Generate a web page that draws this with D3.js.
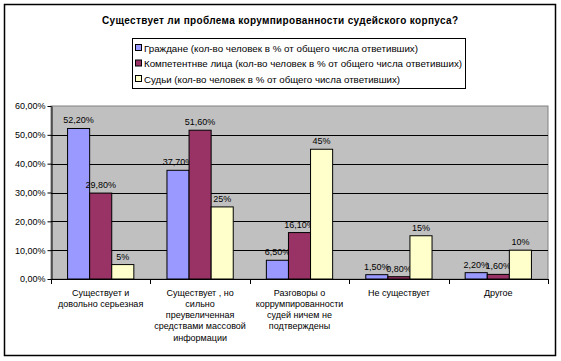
<!DOCTYPE html>
<html><head><meta charset="utf-8">
<script src="https://cdn.jsdelivr.net/npm/d3@7"></script>
<style>html,body{margin:0;padding:0;background:#fff;}svg{display:block;font-family:Arial,"Liberation Sans",sans-serif;}</style>
</head><body>
<script>
const categories = [
  ["Существует и", "довольно серьезная"],
  ["Существует , но", "сильно", "преувеличенная", "средствами массовой", "информации"],
  ["Разговоры о", "коррумпированности", "судей ничем не", "подтверждены"],
  ["Не существует"],
  ["Другое"]
];
const seriesNames = [
  "Граждане (кол-во человек в % от общего числа ответивших)",
  "Компетентнве лица (кол-во человек в % от общего числа ответивших)",
  "Судьи (кол-во человек в % от общего числа ответивших)"
];
const citizens = [52.2, 37.7, 6.5, 1.5, 2.2];
const experts = [29.8, 51.6, 16.1, 0.8, 1.6];
const judges = [5, 25, 45, 15, 10];
const citizensLabels = ["52,20%", "37,70%", "6,50%", "1,50%", "2,20%"];
const expertsLabels = ["29,80%", "51,60%", "16,10%", "0,80%", "1,60%"];
const judgesLabels = ["5%", "25%", "45%", "15%", "10%"];
const yTicks = [0, 10, 20, 30, 40, 50, 60];
const yTickLabels = ["0,00%", "10,00%", "20,00%", "30,00%", "40,00%", "50,00%", "60,00%"];
const colors = ["#9999FF", "#993366", "#FFFFCC"];
const title = "Существует ли проблема корумпированности судейского корпуса?";

const series = [
  {name: seriesNames[0], values: citizens, labels: citizensLabels, color: colors[0]},
  {name: seriesNames[1], values: experts, labels: expertsLabels, color: colors[1]},
  {name: seriesNames[2], values: judges, labels: judgesLabels, color: colors[2]}
];

const W = 561, H = 361;
const svg = d3.select("body").append("svg").attr("width", W).attr("height", H);

svg.append("rect").attr("x", 4.5).attr("y", 4.5).attr("width", 551).attr("height", 351)
  .attr("fill", "#fff").attr("stroke", "#000").attr("stroke-width", 1.5);

svg.append("text").attr("x", 280).attr("y", 24).attr("text-anchor", "middle")
  .attr("font-size", 10).attr("font-weight", "bold")
  .attr("textLength", 356).attr("lengthAdjust", "spacing").text(title);

// legend
const lg = svg.append("g");
lg.append("rect").attr("x", 132.5).attr("y", 38.5).attr("width", 333).attr("height", 50)
  .attr("fill", "#fff").attr("stroke", "#000").attr("stroke-width", 1);
const legendY = [48, 63.5, 79];
const legendW = [274, 318, 256];
series.forEach((s, i) => {
  lg.append("rect").attr("x", 135.5).attr("y", legendY[i] - 3.5).attr("width", 6).attr("height", 6)
    .attr("fill", s.color).attr("stroke", "#000").attr("stroke-width", 1);
  lg.append("text").attr("x", 144).attr("y", legendY[i] + 3.5).attr("font-size", 9.5)
    .attr("textLength", legendW[i]).attr("lengthAdjust", "spacingAndGlyphs").text(s.name);
});

// plot
const x0 = 51, x1 = 548, yTop = 106, yBot = 279;
const x = d3.scaleBand().domain(d3.range(categories.length)).range([x0, x1]).paddingInner(0).paddingOuter(0);
const y = d3.scaleLinear().domain([0, 60]).range([yBot, yTop]);
const bw = x.bandwidth() / 4.5;
const xs = d3.scaleBand().domain(d3.range(series.length)).range([0, bw * 3]);

svg.append("rect").attr("x", x0).attr("y", yTop).attr("width", x1 - x0).attr("height", yBot - yTop)
  .attr("fill", "#C0C0C0").attr("stroke", "#808080").attr("stroke-width", 1);

svg.append("g").selectAll("line").data(yTicks.filter(t => t > 0 && t < 60)).join("line")
  .attr("x1", x0).attr("x2", x1).attr("y1", d => Math.round(y(d)) + 0.5).attr("y2", d => Math.round(y(d)) + 0.5)
  .attr("stroke", "#000").attr("stroke-width", 1);

// bars
series.forEach((s, si) => {
  const g = svg.append("g");
  g.selectAll("rect").data(s.values).join("rect")
    .attr("x", (d, i) => x(i) + x.bandwidth() / 2 - bw * 1.5 + xs(si))
    .attr("y", d => y(d))
    .attr("width", bw)
    .attr("height", d => yBot - y(d))
    .attr("fill", s.color).attr("stroke", "#000").attr("stroke-width", 1);
  g.selectAll("text").data(s.values).join("text")
    .attr("x", (d, i) => x(i) + x.bandwidth() / 2 - bw * 1.5 + xs(si) + bw / 2)
    .attr("y", d => y(d) - 5)
    .attr("text-anchor", "middle").attr("font-size", 9)
    .text((d, i) => s.labels[i]);
});

// y axis
const yAxis = d3.axisLeft(y).tickValues(yTicks).tickFormat((d, i) => yTickLabels[i]).tickSize(4).tickSizeOuter(0);
const ya = svg.append("g").attr("transform", `translate(${x0 + 0.5},0)`).call(yAxis);
ya.select(".domain").attr("stroke", "#000");
ya.selectAll(".tick line").attr("stroke", "#000");
ya.selectAll(".tick text").attr("font-size", 9).attr("font-family", "Arial, 'Liberation Sans', sans-serif").attr("fill", "#000").attr("x", -6);

// x axis
svg.append("line").attr("x1", x0).attr("x2", x1).attr("y1", yBot + 0.5).attr("y2", yBot + 0.5).attr("stroke", "#000");
const bounds = d3.range(categories.length + 1).map(i => i < categories.length ? x(i) : x1);
svg.append("g").selectAll("line").data(bounds).join("line")
  .attr("x1", d => Math.round(d) + 0.5).attr("x2", d => Math.round(d) + 0.5)
  .attr("y1", yBot).attr("y2", yBot + 5).attr("stroke", "#000");

const cl = svg.append("g");
categories.forEach((lines, i) => {
  const t = cl.append("text").attr("text-anchor", "middle").attr("font-size", 9);
  lines.forEach((ln, j) => {
    t.append("tspan").attr("x", x(i) + x.bandwidth() / 2).attr("y", 295.5 + j * 11.3).text(ln);
  });
});
</script>
</body></html>
